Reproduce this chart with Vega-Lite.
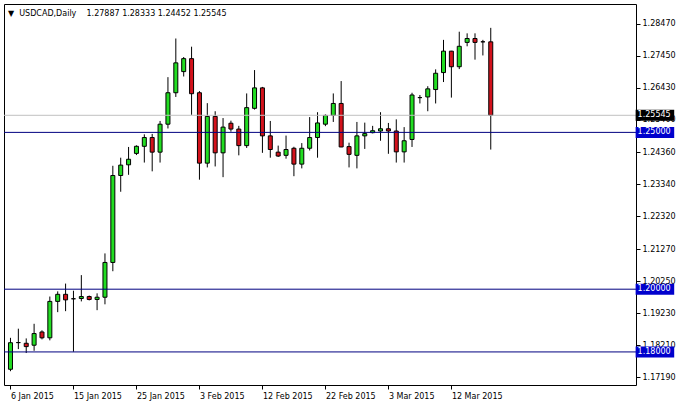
{
  "$schema": "https://vega.github.io/schema/vega-lite/v6.json",
  "width": 632,
  "height": 381,
  "autosize": {"type": "none"},
  "padding": {"left": 4, "top": 4, "right": 45, "bottom": 20},
  "background": "#ffffff",
  "title": {
    "text": "▼\u00a0 USDCAD,Daily\u00a0\u00a0\u00a0 1.27887 1.28333 1.24452 1.25545",
    "anchor": "start",
    "frame": "group",
    "orient": "top",
    "offset": -20,
    "dx": 4,
    "baseline": "alphabetic",
    "font": "DejaVu Sans",
    "fontSize": 8,
    "fontWeight": "normal",
    "color": "#000000"
  },
  "datasets": {
    "candles": [
      {"d": "6 Jan 2015", "i": 0, "o": 1.17447, "h": 1.18450, "l": 1.17385, "c": 1.18294},
      {"d": "7 Jan 2015", "i": 1, "o": 1.18298, "h": 1.18741, "l": 1.18090, "c": 1.18298},
      {"d": "8 Jan 2015", "i": 2, "o": 1.18276, "h": 1.18431, "l": 1.17965, "c": 1.18170},
      {"d": "9 Jan 2015", "i": 3, "o": 1.18214, "h": 1.18897, "l": 1.18037, "c": 1.18586},
      {"d": "11 Jan 2015", "i": 4, "o": 1.18636, "h": 1.18689, "l": 1.18400, "c": 1.18450},
      {"d": "12 Jan 2015", "i": 5, "o": 1.18450, "h": 1.19766, "l": 1.18369, "c": 1.19611},
      {"d": "13 Jan 2015", "i": 6, "o": 1.19611, "h": 1.19931, "l": 1.19269, "c": 1.19837},
      {"d": "14 Jan 2015", "i": 7, "o": 1.19837, "h": 1.20179, "l": 1.19300, "c": 1.19660},
      {"d": "15 Jan 2015", "i": 8, "o": 1.19695, "h": 1.19952, "l": 1.18006, "c": 1.19695},
      {"d": "16 Jan 2015", "i": 9, "o": 1.19704, "h": 1.20449, "l": 1.19611, "c": 1.19766},
      {"d": "18 Jan 2015", "i": 10, "o": 1.19766, "h": 1.19797, "l": 1.19642, "c": 1.19673},
      {"d": "19 Jan 2015", "i": 11, "o": 1.19673, "h": 1.19868, "l": 1.19331, "c": 1.19744},
      {"d": "20 Jan 2015", "i": 12, "o": 1.19744, "h": 1.21141, "l": 1.19518, "c": 1.20853},
      {"d": "21 Jan 2015", "i": 13, "o": 1.20853, "h": 1.23935, "l": 1.20573, "c": 1.23625},
      {"d": "22 Jan 2015", "i": 14, "o": 1.23625, "h": 1.24193, "l": 1.23107, "c": 1.23957},
      {"d": "23 Jan 2015", "i": 15, "o": 1.23966, "h": 1.24535, "l": 1.23647, "c": 1.24143},
      {"d": "25 Jan 2015", "i": 16, "o": 1.24330, "h": 1.24587, "l": 1.24277, "c": 1.24556},
      {"d": "26 Jan 2015", "i": 17, "o": 1.24556, "h": 1.24938, "l": 1.24038, "c": 1.24836},
      {"d": "27 Jan 2015", "i": 18, "o": 1.24836, "h": 1.24951, "l": 1.23758, "c": 1.24370},
      {"d": "28 Jan 2015", "i": 19, "o": 1.24370, "h": 1.25364, "l": 1.24038, "c": 1.25261},
      {"d": "29 Jan 2015", "i": 20, "o": 1.25261, "h": 1.26761, "l": 1.25125, "c": 1.26264},
      {"d": "30 Jan 2015", "i": 21, "o": 1.26264, "h": 1.27993, "l": 1.26130, "c": 1.27217},
      {"d": "1 Feb 2015", "i": 22, "o": 1.26938, "h": 1.27403, "l": 1.26782, "c": 1.27351},
      {"d": "2 Feb 2015", "i": 23, "o": 1.27351, "h": 1.27732, "l": 1.25559, "c": 1.26233},
      {"d": "3 Feb 2015", "i": 24, "o": 1.26264, "h": 1.26317, "l": 1.23492, "c": 1.24019},
      {"d": "4 Feb 2015", "i": 25, "o": 1.24019, "h": 1.25932, "l": 1.23883, "c": 1.25509},
      {"d": "5 Feb 2015", "i": 26, "o": 1.25509, "h": 1.25674, "l": 1.23914, "c": 1.24348},
      {"d": "6 Feb 2015", "i": 27, "o": 1.24348, "h": 1.25457, "l": 1.23572, "c": 1.25168},
      {"d": "8 Feb 2015", "i": 28, "o": 1.25292, "h": 1.25373, "l": 1.25022, "c": 1.25106},
      {"d": "9 Feb 2015", "i": 29, "o": 1.25106, "h": 1.25208, "l": 1.24268, "c": 1.24578},
      {"d": "10 Feb 2015", "i": 30, "o": 1.24578, "h": 1.26242, "l": 1.24504, "c": 1.25789},
      {"d": "11 Feb 2015", "i": 31, "o": 1.25767, "h": 1.26987, "l": 1.25727, "c": 1.26419},
      {"d": "12 Feb 2015", "i": 32, "o": 1.26419, "h": 1.26450, "l": 1.24348, "c": 1.24889},
      {"d": "13 Feb 2015", "i": 33, "o": 1.24889, "h": 1.25364, "l": 1.24193, "c": 1.24454},
      {"d": "15 Feb 2015", "i": 34, "o": 1.24370, "h": 1.24578, "l": 1.24215, "c": 1.24246},
      {"d": "16 Feb 2015", "i": 35, "o": 1.24268, "h": 1.24898, "l": 1.24162, "c": 1.24454},
      {"d": "17 Feb 2015", "i": 36, "o": 1.24494, "h": 1.24541, "l": 1.23603, "c": 1.23988},
      {"d": "18 Feb 2015", "i": 37, "o": 1.23988, "h": 1.24659, "l": 1.23852, "c": 1.24494},
      {"d": "19 Feb 2015", "i": 38, "o": 1.24494, "h": 1.25488, "l": 1.24423, "c": 1.24836},
      {"d": "20 Feb 2015", "i": 39, "o": 1.24836, "h": 1.25643, "l": 1.24193, "c": 1.25301},
      {"d": "22 Feb 2015", "i": 40, "o": 1.25261, "h": 1.25572, "l": 1.25199, "c": 1.25541},
      {"d": "23 Feb 2015", "i": 41, "o": 1.25541, "h": 1.26242, "l": 1.25333, "c": 1.25922},
      {"d": "24 Feb 2015", "i": 42, "o": 1.25922, "h": 1.26636, "l": 1.24530, "c": 1.24535},
      {"d": "25 Feb 2015", "i": 43, "o": 1.24547, "h": 1.24671, "l": 1.23883, "c": 1.24299},
      {"d": "26 Feb 2015", "i": 44, "o": 1.24268, "h": 1.25333, "l": 1.23852, "c": 1.24889},
      {"d": "27 Feb 2015", "i": 45, "o": 1.24889, "h": 1.25311, "l": 1.24473, "c": 1.24960},
      {"d": "1 Mar 2015", "i": 46, "o": 1.24991, "h": 1.25208, "l": 1.24969, "c": 1.25053},
      {"d": "2 Mar 2015", "i": 47, "o": 1.25044, "h": 1.25643, "l": 1.24733, "c": 1.25115},
      {"d": "3 Mar 2015", "i": 48, "o": 1.25115, "h": 1.25301, "l": 1.24317, "c": 1.25044},
      {"d": "4 Mar 2015", "i": 49, "o": 1.25044, "h": 1.25416, "l": 1.24038, "c": 1.24379},
      {"d": "5 Mar 2015", "i": 50, "o": 1.24379, "h": 1.25168, "l": 1.24038, "c": 1.24733},
      {"d": "6 Mar 2015", "i": 51, "o": 1.24774, "h": 1.26264, "l": 1.24535, "c": 1.26192},
      {"d": "8 Mar 2015", "i": 52, "o": 1.26109, "h": 1.26192, "l": 1.25922, "c": 1.26109},
      {"d": "9 Mar 2015", "i": 53, "o": 1.26130, "h": 1.26472, "l": 1.25674, "c": 1.26388},
      {"d": "10 Mar 2015", "i": 54, "o": 1.26366, "h": 1.27009, "l": 1.25922, "c": 1.26885},
      {"d": "11 Mar 2015", "i": 55, "o": 1.26907, "h": 1.27950, "l": 1.26605, "c": 1.27590},
      {"d": "12 Mar 2015", "i": 56, "o": 1.27590, "h": 1.27599, "l": 1.26109, "c": 1.27093},
      {"d": "13 Mar 2015", "i": 57, "o": 1.27093, "h": 1.28210, "l": 1.27018, "c": 1.27745},
      {"d": "15 Mar 2015", "i": 58, "o": 1.27869, "h": 1.28158, "l": 1.27745, "c": 1.27993},
      {"d": "16 Mar 2015", "i": 59, "o": 1.27993, "h": 1.28158, "l": 1.27319, "c": 1.27869},
      {"d": "17 Mar 2015", "i": 60, "o": 1.27888, "h": 1.27950, "l": 1.27453, "c": 1.27888},
      {"d": "18 Mar 2015", "i": 61, "o": 1.27887, "h": 1.28333, "l": 1.24452, "c": 1.25545}
    ],
    "levels": [
      {"price": 1.25545, "kind": "bid"},
      {"price": 1.25, "kind": "level"},
      {"price": 1.2, "kind": "level"},
      {"price": 1.18, "kind": "level"}
    ]
  },
  "config": {
    "view": {"stroke": "#000000", "strokeWidth": 1},
    "axis": {
      "title": null,
      "grid": false,
      "labelFont": "DejaVu Sans",
      "labelFontSize": 8,
      "labelColor": "#000000",
      "tickColor": "#000000",
      "domainColor": "#000000",
      "tickSize": 4,
      "labelOverlap": false,
      "labelFlush": false,
      "labelBound": false
    }
  },
  "layer": [
    {
      "data": {"name": "candles"},
      "mark": {"type": "rule", "color": "#000000", "strokeWidth": 1},
      "encoding": {
        "x": {
          "field": "i",
          "type": "quantitative",
          "scale": {"domain": [-0.1875, 78.8125], "nice": false, "zero": false},
          "axis": {
            "orient": "bottom",
            "values": [0, 8, 16, 24, 32, 40, 48, 56],
            "tickCount": 20,
            "labelExpr": "['6 Jan 2015','15 Jan 2015','25 Jan 2015','3 Feb 2015','12 Feb 2015','22 Feb 2015','3 Mar 2015','12 Mar 2015'][round(datum.value/8)]",
            "labelAlign": "left",
            "labelPadding": 3,
            "labelFlush": false,
            "labelOverlap": false,
            "domain": false
          }
        },
        "y": {
          "field": "l",
          "type": "quantitative",
          "scale": {"domain": [1.17105, 1.28934], "nice": false, "zero": false},
          "axis": {
            "orient": "right",
            "values": [1.2847, 1.2745, 1.2643, 1.254, 1.2436, 1.2334, 1.2232, 1.2127, 1.2025, 1.1923, 1.1821, 1.1719],
            "tickCount": 30,
            "format": ".5f",
            "labelPadding": 2,
            "labelFlush": false,
            "labelOverlap": false,
            "labelBaseline": "middle",
            "domain": false
          }
        },
        "y2": {"field": "h"}
      }
    },
    {
      "data": {"name": "candles"},
      "mark": {"type": "bar", "size": 4, "stroke": "#000000", "strokeWidth": 1},
      "encoding": {
        "x": {"field": "i", "type": "quantitative", "scale": {"domain": [-0.1875, 78.8125], "nice": false, "zero": false}},
        "y": {"field": "o", "type": "quantitative", "scale": {"domain": [1.17105, 1.28934], "nice": false, "zero": false}},
        "y2": {"field": "c"},
        "fill": {
          "condition": [
            {"test": "datum.c > datum.o", "value": "#22dd22"},
            {"test": "datum.c < datum.o", "value": "#d3121c"}
          ],
          "value": "#000000"
        }
      }
    },
    {
      "data": {"name": "levels"},
      "mark": {"type": "rule", "strokeWidth": 1},
      "encoding": {
        "y": {"field": "price", "type": "quantitative", "scale": {"domain": [1.17105, 1.28934], "nice": false, "zero": false}},
        "color": {
          "condition": {"test": "datum.kind == 'bid'", "value": "#c0c0c0"},
          "value": "#000080"
        }
      }
    },
    {
      "data": {"name": "levels"},
      "mark": {"type": "bar", "size": 11, "clip": false},
      "encoding": {
        "x": {"datum": 79.4, "type": "quantitative", "scale": {"domain": [-0.1875, 78.8125], "nice": false, "zero": false}},
        "x2": {"datum": 84.3},
        "y": {"field": "price", "type": "quantitative", "scale": {"domain": [1.17105, 1.28934], "nice": false, "zero": false}},
        "color": {
          "condition": {"test": "datum.kind == 'bid'", "value": "#000000"},
          "value": "#0000cd"
        }
      }
    },
    {
      "data": {"name": "levels"},
      "mark": {"type": "text", "align": "left", "baseline": "middle", "font": "DejaVu Sans", "fontSize": 8, "color": "#ffffff", "clip": false},
      "encoding": {
        "x": {"datum": 79.65, "type": "quantitative", "scale": {"domain": [-0.1875, 78.8125], "nice": false, "zero": false}},
        "y": {"field": "price", "type": "quantitative", "scale": {"domain": [1.17105, 1.28934], "nice": false, "zero": false}},
        "text": {"field": "price", "type": "quantitative", "format": ".5f"}
      }
    }
  ]
}
